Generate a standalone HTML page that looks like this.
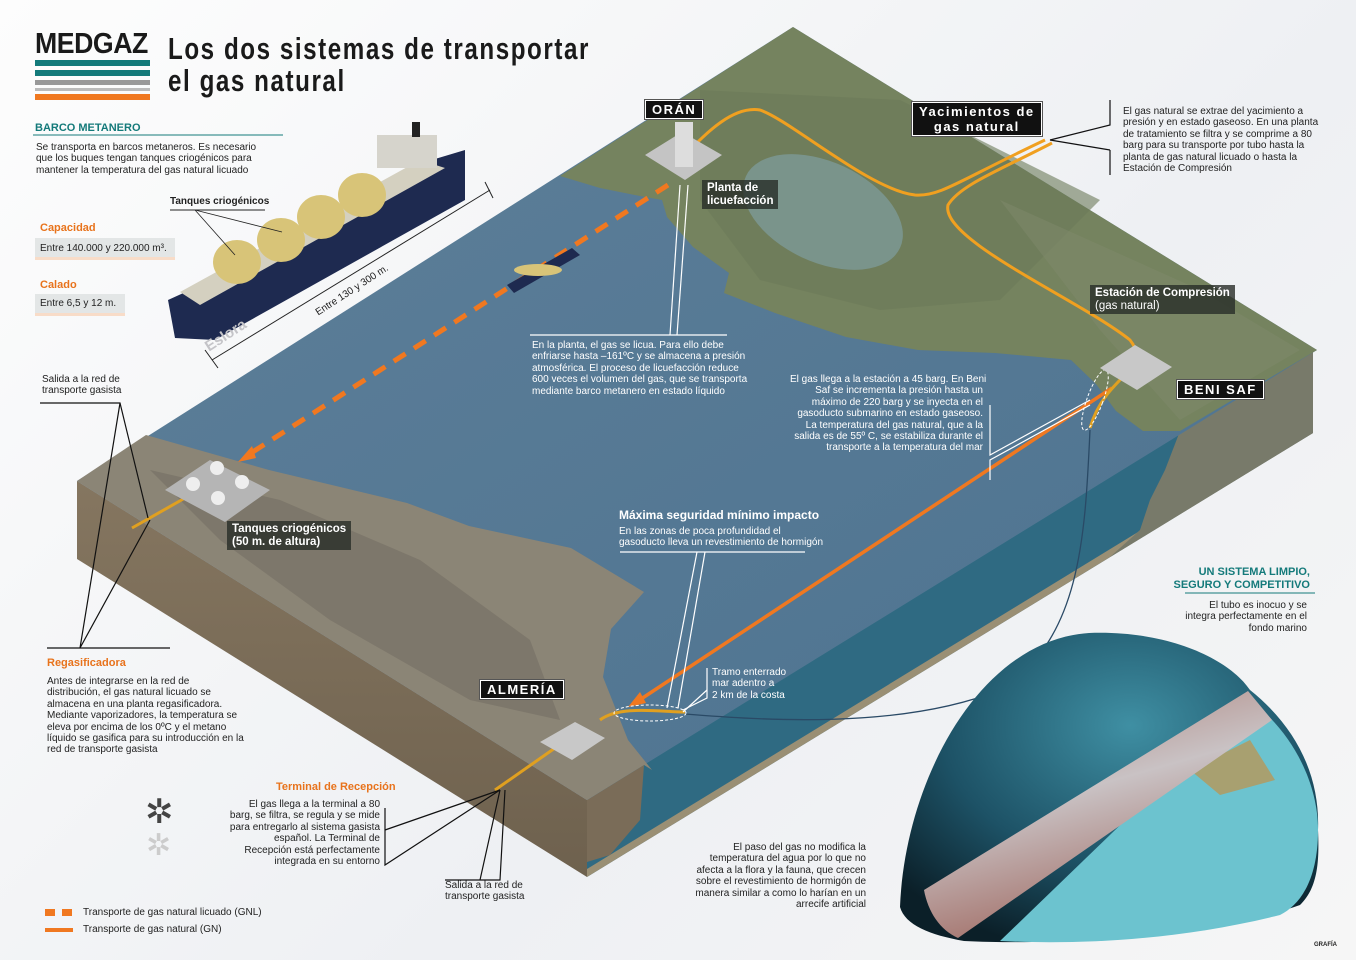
<!DOCTYPE html>
<html><head><meta charset="utf-8"><style>
body{margin:0;background:#fff;}
#w{position:relative;width:1356px;height:960px;overflow:hidden;font-family:"Liberation Sans",sans-serif;background:linear-gradient(135deg,#fdfdfd,#eef0f3 60%,#f6f6f6);}
.t{position:absolute;font-size:10px;line-height:11.4px;color:#222;white-space:nowrap;}
.lbl{position:absolute;background:#111;color:#fff;font-weight:bold;font-size:13px;padding:1px 6px;letter-spacing:1.5px;border:1.5px solid #fff;outline:1px solid #555;}
.dl{position:absolute;background:rgba(40,45,40,.8);color:#fff;font-weight:bold;font-size:11.5px;line-height:12.5px;padding:2px 5px;}
.or{color:#e8731c;font-weight:bold;font-size:11px;position:absolute;}
.w{color:#fff;}
</style></head><body><div id="w">
<svg width="1356" height="960" style="position:absolute;left:0;top:0">
<defs>
<linearGradient id="sea" x1="0" y1="0" x2="1" y2="1"><stop offset="0" stop-color="#5e7f99"/><stop offset="1" stop-color="#4d7390"/></linearGradient>
<radialGradient id="uw" cx="0.55" cy="0.3" r="0.75"><stop offset="0" stop-color="#3f8fa3"/><stop offset="0.6" stop-color="#1d5266"/><stop offset="1" stop-color="#0b1f28"/></radialGradient>
<linearGradient id="pipe" x1="0" y1="0" x2="0.4" y2="1"><stop offset="0" stop-color="#a8756c"/><stop offset="0.5" stop-color="#c9c2c4"/><stop offset="1" stop-color="#a06a62"/></linearGradient>
<linearGradient id="lf" x1="0" y1="0" x2="0" y2="1"><stop offset="0" stop-color="#857660"/><stop offset="1" stop-color="#6e614e"/></linearGradient>
</defs>
<polygon points="77,481 77,559 587,877 587,800" fill="url(#lf)"/>
<polygon points="587,800 587,877 1313,433 1313,348" fill="#2f6a82"/>
<polygon points="587,869 587,877 1313,433 1313,425" fill="#9a8f74"/>
<polygon points="1180,431 1313,348 1313,433 1110,557 1140,530 1150,500 1165,470" fill="#787a6a"/>
<polygon points="587,800 644,765 640,820 610,855 587,862" fill="#7a6c58"/>
<polygon points="77,481 793,27 1317,350 587,800" fill="url(#sea)"/>
<polygon points="560,176 793,27 1317,350 1180,431 1143,431 1116,411 1096,384 1071,360 995,353 918,350 846,337 775,313 724,293 729,273 693,247 667,217 662,200 640,196 600,188" fill="#75835f"/>
<polygon points="700,90 900,100 1100,200 1000,300 880,310 760,280 700,200" fill="#6a7a58" opacity=".6"/>
<ellipse cx="823" cy="212" rx="85" ry="50" transform="rotate(25 823 212)" fill="#7d9a97" opacity=".8"/>
<polygon points="1000,200 1200,290 1300,350 1180,420 1100,330" fill="#7f8a6c" opacity=".5"/>
<polygon points="77,481 146,435 269,470 407,503 469,526 571,548 644,592 611,629 603,677 628,740 652,770 644,765 587,800" fill="#8b8576"/>
<polygon points="150,470 280,500 420,560 530,640 560,720 470,700 330,620 220,540" fill="#6f6a60" opacity=".5"/>
<line x1="668" y1="185" x2="248" y2="455" stroke="#f07820" stroke-width="5" stroke-dasharray="14,10"/>
<polygon points="238,462 252,446 256,458" fill="#f07820"/>
<line x1="1112" y1="388" x2="635" y2="703" stroke="#f07820" stroke-width="3.5"/>
<polygon points="628,707 640,692 646,703" fill="#f07820"/>
<path d="M680,160 C700,140 730,105 760,110 C790,120 870,190 915,195 C940,197 960,180 1045,140" stroke="#f0a020" stroke-width="3" fill="none"/>
<path d="M1052,143 C1000,170 960,185 948,205 C940,240 1080,300 1130,340 C1138,350 1138,360 1132,370" stroke="#f0a020" stroke-width="3" fill="none"/>
<line x1="132" y1="528" x2="185" y2="498" stroke="#e0a020" stroke-width="3"/>
<line x1="495" y1="790" x2="555" y2="748" stroke="#e0a020" stroke-width="3"/>
<path d="M1090,428 C1098,400 1115,385 1128,372" stroke="#e0a020" stroke-width="3" fill="none"/>
<path d="M1090,430 C1085,540 1080,640 1000,690 C900,730 760,720 685,714" stroke="#2a4a66" stroke-width="1.3" fill="none"/>
<path d="M600,720 C620,705 660,712 685,712" stroke="#e0a020" stroke-width="3" fill="none"/>
<ellipse cx="650" cy="713" rx="36" ry="8" fill="none" stroke="#fff" stroke-dasharray="3,2"/>
<ellipse cx="1095" cy="400" rx="8" ry="32" transform="rotate(20 1095 400)" fill="none" stroke="#fff" stroke-dasharray="3,2"/>
<polygon points="645,155 682,132 722,155 685,180" fill="#c4c4c4"/>
<rect x="675" y="122" width="18" height="45" fill="#ddd"/>
<polygon points="165,490 210,460 270,490 225,522" fill="#b5b5b5"/>
<circle cx="193" cy="484" r="7" fill="#eee"/><circle cx="217" cy="468" r="7" fill="#eee"/><circle cx="218" cy="498" r="7" fill="#eee"/><circle cx="242" cy="482" r="7" fill="#eee"/>
<polygon points="540,742 575,722 605,738 572,760" fill="#c8c8c8"/>
<polygon points="1100,368 1135,345 1172,367 1137,390" fill="#c8c8c8"/>
<polygon points="168,300 190,290 415,165 465,150 465,200 215,340 175,338" fill="#1e2a50"/>
<polygon points="180,292 420,160 445,168 200,305" fill="#d4d0c0"/>
<ellipse cx="237" cy="262" rx="24" ry="22" fill="#d8c478"/>
<ellipse cx="281" cy="240" rx="24" ry="22" fill="#d8c478"/>
<ellipse cx="321" cy="217" rx="24" ry="22" fill="#d8c478"/>
<ellipse cx="362" cy="195" rx="24" ry="22" fill="#d8c478"/>
<rect x="377" y="135" width="60" height="33" fill="#d6d4cc"/>
<rect x="412" y="122" width="8" height="15" fill="#222"/>
<polygon points="507,285 572,248 580,255 514,293" fill="#1e2a50"/>
<ellipse cx="538" cy="270" rx="24" ry="6" fill="#d8c478"/>
<line x1="212" y1="360" x2="490" y2="190" stroke="#222"/>
<line x1="205" y1="350" x2="218" y2="368" stroke="#222"/><line x1="485" y1="182" x2="493" y2="198" stroke="#222"/>
<path d="M900,907 C905,780 980,640 1089,633 C1170,630 1230,660 1250,690 C1300,730 1320,780 1318,830 C1320,870 1315,890 1300,905 C1200,940 1050,945 964,941 C930,935 905,925 900,907 Z" fill="url(#uw)"/>
<path d="M1000,941 L1250,700 C1290,730 1318,780 1318,830 C1318,880 1300,905 1280,915 C1180,940 1080,945 1000,941 Z" fill="#6cc3cf"/>
<polygon points="1190,770 1250,740 1275,780 1220,795" fill="#a8a070"/>
<path d="M924,890 L1248,691 L1272,720 L958,938 C940,930 928,912 924,890 Z" fill="url(#pipe)"/>
<rect x="35" y="60" width="115" height="6" fill="#147a7a"/>
<rect x="35" y="70" width="115" height="6" fill="#147a7a"/>
<rect x="35" y="80" width="115" height="5" fill="#999"/>
<rect x="35" y="88" width="115" height="3" fill="#bbb"/>
<rect x="35" y="94" width="115" height="6" fill="#f07820"/>
<line x1="33" y1="135" x2="283" y2="135" stroke="#147a7a"/>
<line x1="1185" y1="593" x2="1315" y2="593" stroke="#147a7a"/>
<rect x="35" y="238" width="140" height="19" fill="#e3e6e6"/><rect x="35" y="257" width="140" height="3" fill="#f8dcc8"/>
<rect x="35" y="294" width="90" height="19" fill="#e3e6e6"/><rect x="35" y="313" width="90" height="3" fill="#f8dcc8"/>
<line x1="170" y1="210" x2="265" y2="210" stroke="#222"/>
<line x1="195" y1="210" x2="235" y2="255" stroke="#222" stroke-width=".8"/><line x1="195" y1="210" x2="282" y2="232" stroke="#222" stroke-width=".8"/>
<rect x="45" y="909" width="10" height="7" fill="#f07820"/><rect x="62" y="909" width="10" height="7" fill="#f07820"/>
<rect x="45" y="928" width="28" height="4" fill="#f07820"/>
<g stroke="#111" fill="none" stroke-width="1.2">
<polyline points="40,403 120,403 148,518"/><polyline points="120,403 80,648 150,520"/><line x1="47" y1="648" x2="170" y2="648"/>
<polyline points="1110,100 1110,125 1050,140"/><polyline points="1110,150 1050,140"/><line x1="1110" y1="150" x2="1110" y2="175"/>
<polyline points="385,808 385,865 500,790"/><polyline points="385,830 500,790"/>
<polyline points="445,880 500,880 505,790"/><line x1="480" y1="880" x2="500" y2="790"/>
</g>
<g stroke="#fff" fill="none" stroke-width="1.2">
<polyline points="990,405 990,455 1090,400"/><polyline points="990,480 990,460 1090,405"/>
<polyline points="530,335 727,335"/><polyline points="670,335 680,185"/><polyline points="677,335 688,185"/>
<polyline points="620,552 805,552"/><polyline points="697,552 667,708"/><polyline points="705,552 678,708"/>
<polyline points="707,668 707,698 683,710"/><polyline points="707,690 683,712"/>
</g>
</svg>
<div style="position:absolute;left:35px;top:28px;font-weight:bold;font-size:29px;color:#1a1a1a;letter-spacing:-0.5px;transform:scaleX(0.92);transform-origin:left;">MEDGAZ</div>
<div style="position:absolute;left:168px;top:33px;font-weight:bold;font-size:31px;line-height:32px;color:#1a1a1a;letter-spacing:2px;transform:scaleX(0.78);transform-origin:left;white-space:nowrap;">Los dos sistemas de transportar<br>el gas natural</div>
<div style="position:absolute;left:35px;top:122px;font-weight:bold;font-size:11px;color:#147a7a;">BARCO METANERO</div>
<div class="t" style="left:36px;top:142px;">Se transporta en barcos metaneros. Es necesario<br>que los buques tengan tanques criogénicos para<br>mantener la temperatura del gas natural licuado</div>
<div class="t" style="left:170px;top:196px;font-weight:bold;">Tanques criogénicos</div>
<div class="or" style="left:40px;top:222px;">Capacidad</div>
<div class="t" style="left:40px;top:243px;">Entre 140.000 y 220.000 m³.</div>
<div class="or" style="left:40px;top:279px;">Calado</div>
<div class="t" style="left:40px;top:298px;">Entre 6,5 y 12 m.</div>
<div class="t" style="left:310px;top:285px;transform:rotate(-33deg);">Entre 130 y 300 m.</div>
<div class="t" style="left:203px;top:330px;transform:rotate(-33deg);font-size:15px;color:#c4c4c8;font-weight:bold;">Eslora</div>
<div class="t" style="left:42px;top:374px;">Salida a la red de<br>transporte gasista</div>
<div class="lbl" style="left:645px;top:100px;">ORÁN</div>
<div class="dl" style="left:702px;top:180px;">Planta de<br>licuefacción</div>
<div class="lbl" style="left:912px;top:102px;line-height:15px;text-align:center;">Yacimientos de<br>gas natural</div>
<div class="t" style="left:1123px;top:106px;">El gas natural se extrae del yacimiento a<br>presión y en estado gaseoso. En una planta<br>de tratamiento se filtra y se comprime a 80<br>barg para su transporte por tubo hasta la<br>planta de gas natural licuado o hasta la<br>Estación de Compresión</div>
<div class="t w" style="left:532px;top:340px;">En la planta, el gas se licua. Para ello debe<br>enfriarse hasta –161ºC y se almacena a presión<br>atmosférica. El proceso de licuefacción reduce<br>600 veces el volumen del gas, que se transporta<br>mediante barco metanero en estado líquido</div>
<div class="dl" style="left:1090px;top:285px;">Estación de Compresión<br><span style="font-weight:normal">(gas natural)</span></div>
<div class="lbl" style="left:1177px;top:380px;">BENI SAF</div>
<div class="t w" style="left:790px;top:374px;text-align:right;width:193px;">El gas llega a la estación a 45 barg. En Beni<br>Saf se incrementa la presión hasta un<br>máximo de 220 barg y se inyecta en el<br>gasoducto submarino en estado gaseoso.<br>La temperatura del gas natural, que a la<br>salida es de 55º C, se estabiliza durante el<br>transporte a la temperatura del mar</div>
<div class="dl" style="left:227px;top:521px;">Tanques criogénicos<br>(50 m. de altura)</div>
<div style="position:absolute;left:619px;top:508px;color:#fff;font-weight:bold;font-size:12px;">Máxima seguridad mínimo impacto</div>
<div class="t w" style="left:619px;top:526px;">En las zonas de poca profundidad el<br>gasoducto lleva un revestimiento de hormigón</div>
<div class="t w" style="left:712px;top:667px;">Tramo enterrado<br>mar adentro a<br>2 km de la costa</div>
<div class="lbl" style="left:480px;top:680px;">ALMERÍA</div>
<div class="or" style="left:47px;top:657px;">Regasificadora</div>
<div class="t" style="left:47px;top:676px;">Antes de integrarse en la red de<br>distribución, el gas natural licuado se<br>almacena en una planta regasificadora.<br>Mediante vaporizadores, la temperatura se<br>eleva por encima de los 0ºC y el metano<br>líquido se gasifica para su introducción en la<br>red de transporte gasista</div>
<div class="or" style="left:276px;top:781px;">Terminal de Recepción</div>
<div class="t" style="left:220px;top:799px;text-align:right;width:160px;">El gas llega a la terminal a 80<br>barg, se filtra, se regula y se mide<br>para entregarlo al sistema gasista<br>español. La Terminal de<br>Recepción está perfectamente<br>integrada en su entorno</div>
<div class="t" style="left:445px;top:880px;">Salida a la red de<br>transporte gasista</div>
<div style="position:absolute;left:145px;top:792px;font-size:34px;color:#444;">✲</div>
<div style="position:absolute;left:146px;top:828px;font-size:30px;color:#ccc;">✲</div>
<div style="position:absolute;left:1150px;top:566px;color:#147a7a;font-weight:bold;font-size:11px;text-align:right;width:160px;line-height:13px;">UN SISTEMA LIMPIO,<br>SEGURO Y COMPETITIVO</div>
<div class="t" style="left:1150px;top:600px;text-align:right;width:157px;">El tubo es inocuo y se<br>integra perfectamente en el<br>fondo marino</div>
<div class="t" style="left:670px;top:842px;text-align:right;width:196px;">El paso del gas no modifica la<br>temperatura del agua por lo que no<br>afecta a la flora y la fauna, que crecen<br>sobre el revestimiento de hormigón de<br>manera similar a como lo harían en un<br>arrecife artificial</div>
<div class="t" style="left:83px;top:907px;">Transporte de gas natural licuado (GNL)</div>
<div class="t" style="left:83px;top:924px;">Transporte de gas natural (GN)</div>
<div class="t" style="left:1314px;top:940px;font-size:6px;font-weight:bold;">GRAFÍA</div>
</div></body></html>
